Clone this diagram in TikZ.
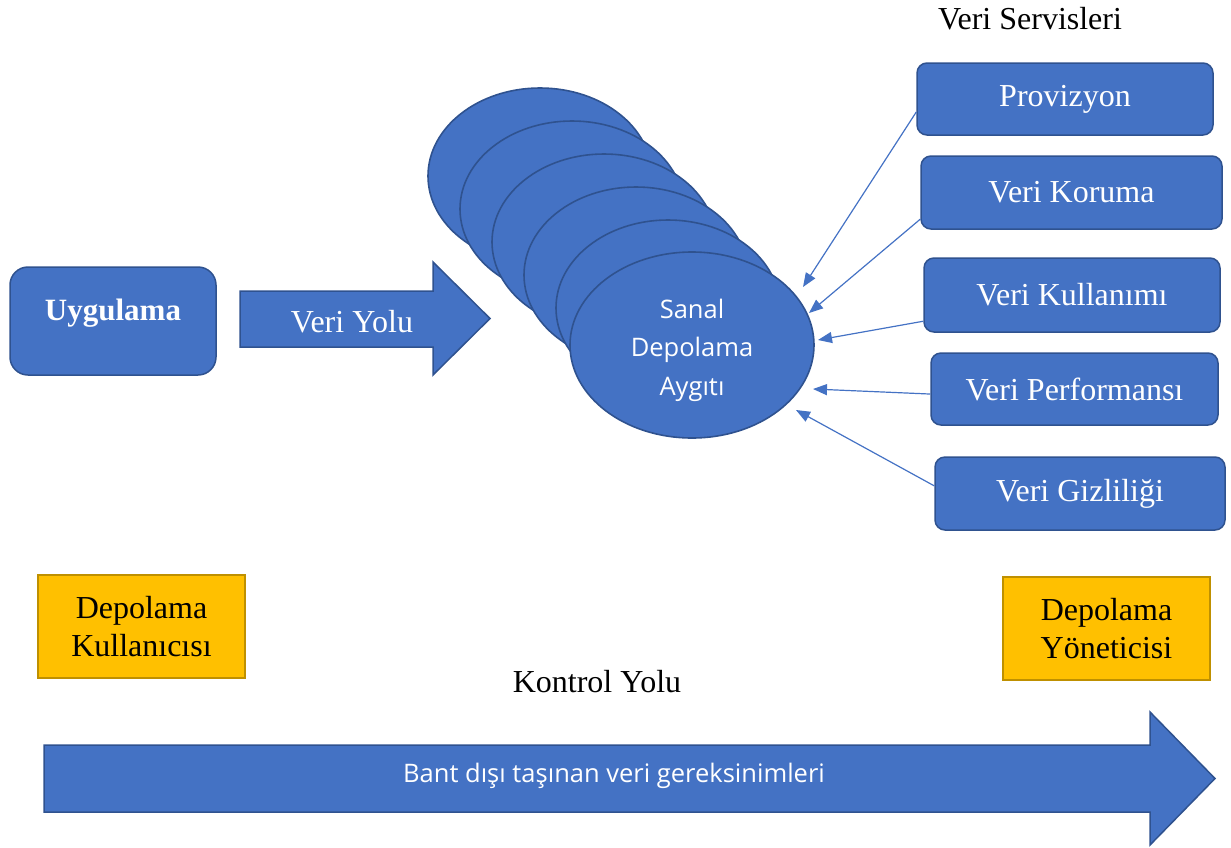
\documentclass[tikz,border=0pt]{standalone}
\usepackage{fontspec}
\setmainfont{Liberation Serif}
\newfontfamily\opensans{Open Sans}
\usetikzlibrary{arrows.meta,positioning,shapes.geometric}

\definecolor{boxblue}{HTML}{4472C4}
\definecolor{edgeblue}{HTML}{2F528F}
\definecolor{gold}{HTML}{FFC000}
\definecolor{golddark}{HTML}{BF9000}

\tikzset{
  big/.style={font=\fontsize{32}{38}\selectfont},
  service/.style={big,draw=edgeblue,fill=boxblue,line width=1.5pt,rounded corners=10pt,text=white},
  disk/.style={ellipse,draw=edgeblue,fill=boxblue,line width=1.6pt,minimum width=224pt,minimum height=176pt},
  role/.style={big,draw=golddark,fill=gold,line width=1.5pt,align=center,minimum width=207pt,minimum height=103pt},
  feed/.style={-{Triangle[length=14pt,width=11pt]},draw=boxblue,line width=1.2pt},
  fatarrow/.style={draw=edgeblue,fill=boxblue,line width=1.5pt},
}

\begin{document}
\begin{tikzpicture}[x=1pt,y=-1pt]
\useasboundingbox (0,0) rectangle (1231,847);

% uygulama ve veri yolu
\node[service,rounded corners=18pt,minimum width=206pt,minimum height=108pt,text depth=22pt,font=\fontsize{31}{38}\selectfont\bfseries] (app) at (113,321) {Uygulama};
\draw[fatarrow] (240,291) -- (433,291) -- (433,262) -- (490,318.5) -- (433,375) -- (433,347) -- (240,347) -- cycle;
\node[big,text=white] (yol) at (352,322) {Veri Yolu};

% sanal depolama
\foreach \k in {0,...,4}
  \node[disk] (d\k) at ({540+32*\k},{176+33*\k}) {};
\node[disk,minimum width=244pt,minimum height=186pt,text=white,align=center,text height=107pt,
  font=\opensans\fontsize{25.5}{38.5}\selectfont] (sanal) at (692,345) {Sanal\\Depolama\\Aygıtı};

% veri servisleri
\node[big] (servis) at (1030,19) {Veri Servisleri};
\node[service,minimum width=296pt,minimum height=72pt] (prov) at (1065,99) {Provizyon};
\node[service,minimum width=301pt,minimum height=73pt] (koruma) at (1071.5,192.5) {Veri Koruma};
\node[service,minimum width=296pt,minimum height=74pt] (kullan) at (1072,295) {Veri Kullanımı};
\node[service,minimum width=287pt,minimum height=72pt] (perf) at (1074.5,389) {Veri Performansı};
\node[service,minimum width=290pt,minimum height=73pt] (gizli) at (1080,493.5) {Veri Gizliliği};

\coordinate (t1) at (803,287);
\coordinate (t2) at (809,313);
\coordinate (t3) at (818,340);
\coordinate (t4) at (813,389);
\coordinate (t5) at (796,410);
\draw[feed] (prov.185) -- (t1);
\draw[feed] (koruma.190) -- (t2);
\draw[feed] (kullan.190) -- (t3);
\draw[feed] (perf.182) -- (t4);
\draw[feed] (gizli.177) -- (t5);

% kontrol yolu
\node[role] (user) at (141.5,626.5) {Depolama\\Kullanıcısı};
\node[role] (admin) at (1106.5,628.5) {Depolama\\Yöneticisi};
\node[big] (kontrol) at (597,682) {Kontrol Yolu};
\draw[fatarrow] (44,745) -- (1150,745) -- (1150,712) -- (1215,778.5) -- (1150,845) -- (1150,812) -- (44,812) -- cycle;
\node[text=white,font=\opensans\fontsize{25.5}{30}\selectfont] (bant) at (614,776) {Bant dışı taşınan veri gereksinimleri};
\end{tikzpicture}
\end{document}
